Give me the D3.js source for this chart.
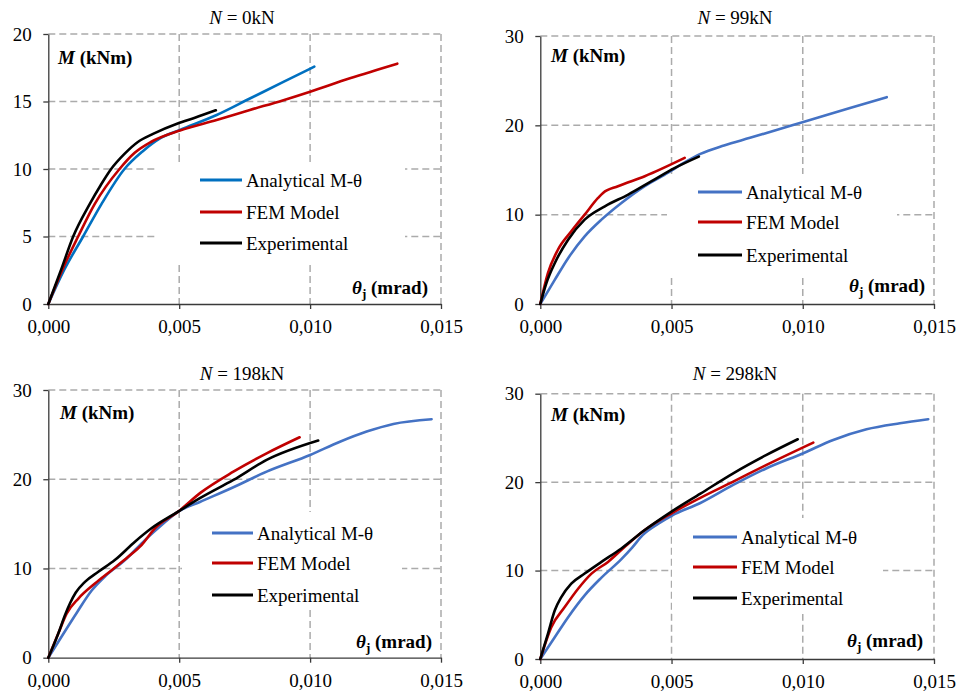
<!DOCTYPE html>
<html>
<head>
<meta charset="utf-8">
<script src="https://cdn.jsdelivr.net/npm/d3@7"></script>
<style>
  html, body { margin: 0; padding: 0; background: #fff; }
  svg { display: block; }
  svg text { font-family: 'Liberation Serif', 'Times New Roman', Tinos, Times, 'DejaVu Serif', 'Noto Serif', serif; fill: #000; }
</style>
</head>
<body>
<svg id="chart" width="959" height="693" font-family="'Liberation Serif', 'Times New Roman', Times, 'DejaVu Serif', serif"></svg>
<script>
// ---------------- DATA ----------------
const seriesNames = ["Analytical M-θ", "FEM Model", "Experimental"];
const panelLoads = ["0kN", "99kN", "198kN", "298kN"];
const xTickValues = [0, 0.005, 0.010, 0.015];
const xTickLabels = ["0,000", "0,005", "0,010", "0,015"];
const yMaxValues = [20, 30, 30, 30];
const yStepValues = [5, 10, 10, 10];

// N = 0kN  [theta (rad), M (kNm)]
const p1Analytical = [[0,0],[0.0006,2.5],[0.00133,5],[0.00203,7.4],[0.00291,10],[0.0036,11.3],[0.0043,12.3],[0.00503,12.9],[0.00643,14.0],[0.0077,15.22],[0.00898,16.45],[0.01016,17.58]];
const p1FEM = [[0,0],[0.00055,2.6],[0.00114,5],[0.00177,7.4],[0.00272,10],[0.0033,11.2],[0.00392,12.0],[0.00503,12.85],[0.00643,13.63],[0.0077,14.37],[0.00898,15.1],[0.01,15.73],[0.01152,16.72],[0.01333,17.8]];
const p1Exp = [[0,0],[0.0005,2.6],[0.00095,5],[0.00158,7.4],[0.002,8.8],[0.0024,10],[0.0029,11.1],[0.00342,12.0],[0.004,12.6],[0.00494,13.37],[0.0056,13.8],[0.0064,14.35]];

// N = 99kN
const p2Analytical = [[0,0],[0.00055,2.7],[0.00106,5.13],[0.00169,7.57],[0.00233,9.44],[0.00309,11.31],[0.00398,13.2],[0.00487,14.7],[0.0055,15.85],[0.0061,16.8],[0.007,17.75],[0.00799,18.6],[0.01002,20.37],[0.0118,21.93],[0.0132,23.15]];
const p2FEM = [[0,0],[0.00029,3.45],[0.00067,6.07],[0.00118,8.13],[0.00169,10.0],[0.0022,11.87],[0.00239,12.43],[0.00296,13.18],[0.00398,14.3],[0.0055,16.35]];
const p2Exp = [[0,0],[0.00023,2.32],[0.00055,4.57],[0.00106,7.19],[0.00169,9.44],[0.00246,10.94],[0.00335,12.25],[0.00424,13.75],[0.00513,15.24],[0.00604,16.5]];

// N = 198kN
const p3Analytical = [[0,0],[0.0006,2.8],[0.0011,5.1],[0.00165,7.5],[0.0022,9.2],[0.00293,10.94],[0.00369,13.18],[0.00433,14.87],[0.00496,16.37],[0.00579,17.45],[0.00707,19.1],[0.00834,20.85],[0.01,22.72],[0.01114,24.2],[0.01216,25.34],[0.01318,26.2],[0.01464,26.73]];
const p3FEM = [[0,0],[0.00038,2.7],[0.0007,4.94],[0.00115,6.63],[0.00178,8.31],[0.00242,9.81],[0.00305,11.31],[0.00356,12.62],[0.00407,14.5],[0.00496,16.37],[0.00582,18.5],[0.00707,20.85],[0.00834,22.9],[0.0096,24.7]];
const p3Exp = [[0,0],[0.00038,2.7],[0.00064,4.8],[0.00083,6.1],[0.00105,7.3],[0.0014,8.5],[0.00191,9.63],[0.00254,10.94],[0.00331,13.0],[0.00394,14.5],[0.00496,16.37],[0.00579,17.87],[0.00707,19.92],[0.00834,22.16],[0.01031,24.33]];

// N = 298kN
const p4Analytical = [[0,0],[0.00055,2.46],[0.00106,4.73],[0.00169,7.2],[0.00233,9.2],[0.00309,11.3],[0.0035,12.6],[0.0039,14.0],[0.0045,15.3],[0.005,16.2],[0.00608,17.61],[0.00735,19.68],[0.00862,21.57],[0.01002,23.27],[0.01116,24.77],[0.01243,25.98],[0.0137,26.66],[0.01478,27.11]];
const p4FEM = [[0,0],[0.00042,3.6],[0.00093,5.87],[0.00144,7.95],[0.00195,9.66],[0.00258,10.98],[0.00322,12.69],[0.00398,14.58],[0.005,16.48],[0.00608,18.2],[0.00735,20.06],[0.00862,21.95],[0.0104,24.47]];
const p4Exp = [[0,0],[0.00029,2.84],[0.00055,5.49],[0.0008,7.0],[0.00118,8.52],[0.00169,9.66],[0.00233,10.98],[0.00309,12.5],[0.00398,14.58],[0.005,16.67],[0.0061,18.7],[0.00735,21.0],[0.00862,23.08],[0.00981,24.85]];

// ---------------- LAYOUT ----------------
const svg = d3.select("#chart");
const FONT = 19;
const FAMILY = "'Liberation Serif', 'Times New Roman', Times, 'DejaVu Serif', serif";
const red = "#C00000", black = "#000000";

const panels = [
  { load: panelLoads[0], yMax: yMaxValues[0], yStep: yStepValues[0], series: [p1Analytical, p1FEM, p1Exp], blue: "#0070C0",
    L: 48.3, R: 441, T: 34, B: 304, titleX: 242, titleY: 24,
    legBox: [158, 163, 247, 100], legLine: [200, 242], legRows: [180, 212, 243],
    mLab: [58, 64], tLab: [428, 294], tBox: [340, 272, 96, 30] },
  { load: panelLoads[1], yMax: yMaxValues[1], yStep: yStepValues[1], series: [p2Analytical, p2FEM, p2Exp], blue: "#4472C4",
    L: 540.3, R: 934, T: 36, B: 304, titleX: 735, titleY: 24,
    legBox: [667, 174, 230, 102], legLine: [698, 742], legRows: [192, 222, 255],
    mLab: [551, 62], tLab: [925, 292], tBox: [840, 272, 90, 30] },
  { load: panelLoads[2], yMax: yMaxValues[2], yStep: yStepValues[2], series: [p3Analytical, p3FEM, p3Exp], blue: "#4472C4",
    L: 48.3, R: 441, T: 390, B: 657.7, titleX: 242, titleY: 380,
    legBox: [182, 512, 220, 97], legLine: [212, 253], legRows: [533, 563, 595],
    mLab: [60, 419], tLab: [432, 648], tBox: [345, 625, 92, 30] },
  { load: panelLoads[3], yMax: yMaxValues[3], yStep: yStepValues[3], series: [p4Analytical, p4FEM, p4Exp], blue: "#4472C4",
    L: 540.3, R: 934, T: 393.7, B: 659, titleX: 735, titleY: 380,
    legBox: [672, 518, 211, 96], legLine: [693, 737], legRows: [537, 567, 598],
    mLab: [551, 421], tLab: [923, 647], tBox: [838, 625, 92, 30] }
];

panels.forEach(p => {
  const g = svg.append("g").attr("font-family", FAMILY);
  const x = d3.scaleLinear().domain([0, 0.015]).range([p.L, p.R]);
  const y = d3.scaleLinear().domain([0, p.yMax]).range([p.B, p.T]);
  const yTicks = d3.range(0, p.yMax + 0.001, p.yStep);

  // gridlines (dashed)
  const grid = g.append("g").attr("stroke", "#ababab").attr("stroke-width", 1.5)
    .attr("stroke-dasharray", "7,4").attr("fill", "none");
  yTicks.filter(v => v > 0).forEach(v => {
    grid.append("line").attr("x1", p.L).attr("x2", p.R).attr("y1", y(v)).attr("y2", y(v));
  });
  xTickValues.filter(v => v > 0).forEach(v => {
    grid.append("line").attr("x1", x(v)).attr("x2", x(v)).attr("y1", p.T).attr("y2", p.B);
  });

  // white boxes behind legend and axis title
  g.append("rect").attr("x", p.legBox[0]).attr("y", p.legBox[1]).attr("width", p.legBox[2]).attr("height", p.legBox[3]).attr("fill", "#fff");
  g.append("rect").attr("x", p.tBox[0]).attr("y", p.tBox[1]).attr("width", p.tBox[2]).attr("height", p.tBox[3]).attr("fill", "#fff");

  // axes
  const xAxis = d3.axisBottom(x).tickValues(xTickValues).tickFormat((d, i) => xTickLabels[i]).tickSizeInner(5).tickSizeOuter(0).tickPadding(6);
  const yAxis = d3.axisLeft(y).tickValues(yTicks).tickFormat(d3.format("d")).tickSizeInner(5).tickSizeOuter(0).tickPadding(11.5);
  const gx = g.append("g").attr("transform", `translate(0,${p.B})`).call(xAxis);
  const gy = g.append("g").attr("transform", `translate(${p.L},0)`).call(yAxis);
  [gx, gy].forEach(a => {
    a.attr("font-family", FAMILY).attr("font-size", FONT);
    a.selectAll("path, line").attr("stroke", "#3a3a3a").attr("stroke-width", 1.3);
    a.selectAll("text").attr("font-size", FONT).attr("font-family", FAMILY).attr("fill", "#000");
  });
  gx.selectAll("text").attr("dy", "0.95em");

  // curves
  const colors = [p.blue, red, black];
  const line = d3.line().x(d => x(d[0])).y(d => y(d[1])).curve(d3.curveMonotoneX);
  p.series.forEach((s, i) => {
    g.append("path").datum(s).attr("d", line).attr("fill", "none")
      .attr("stroke", colors[i]).attr("stroke-width", 2.6).attr("stroke-linejoin", "round").attr("stroke-linecap", "round");
  });

  // legend
  seriesNames.forEach((name, i) => {
    const yy = p.legRows[i];
    g.append("line").attr("x1", p.legLine[0]).attr("x2", p.legLine[1]).attr("y1", yy).attr("y2", yy)
      .attr("stroke", colors[i]).attr("stroke-width", 3);
    g.append("text").attr("x", p.legLine[1] + 4).attr("y", yy).attr("dy", "0.35em")
      .attr("font-size", FONT).text(name);
  });

  // title
  const t = g.append("text").attr("x", p.titleX).attr("y", p.titleY).attr("text-anchor", "middle").attr("font-size", FONT);
  t.append("tspan").attr("font-style", "italic").text("N");
  t.append("tspan").text(" = " + p.load);

  // axis titles
  const m = g.append("text").attr("x", p.mLab[0]).attr("y", p.mLab[1]).attr("font-size", FONT).attr("font-weight", "bold");
  m.append("tspan").attr("font-style", "italic").text("M");
  m.append("tspan").text(" (kNm)");

  const th = g.append("text").attr("x", p.tLab[0]).attr("y", p.tLab[1]).attr("font-size", FONT).attr("font-weight", "bold").attr("text-anchor", "end");
  th.append("tspan").attr("font-style", "italic").text("θ");
  th.append("tspan").attr("font-size", 13).attr("dy", 4).text("j");
  th.append("tspan").attr("dy", -4).text(" (mrad)");
});
</script>
</body>
</html>
